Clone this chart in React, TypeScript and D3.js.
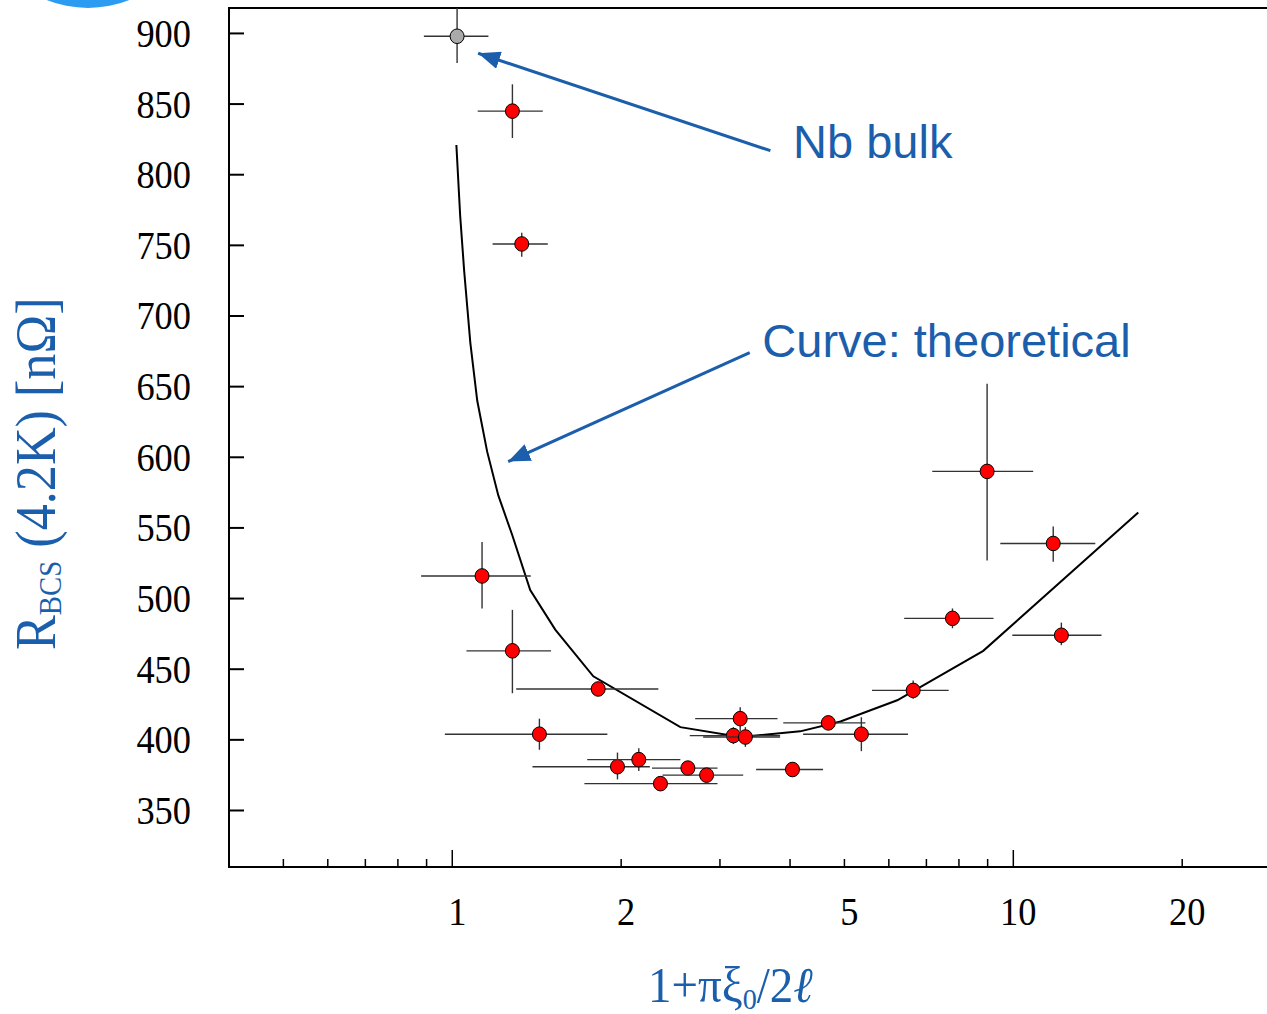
import React, { useEffect, useRef } from "react";
import * as d3 from "d3";

// measured points: x = 1+pi*xi0/2l, y = R_BCS(4.2K) [nOhm]
const kind = ["bulk", "film", "film", "film", "film", "film", "film", "film", "film", "film", "film", "film", "film", "film", "film", "film", "film", "film", "film", "film", "film", "film", "film"];
const ptX = [1.02, 1.28, 1.33, 1.13, 1.28, 1.82, 1.43, 1.97, 2.15, 2.35, 2.63, 2.84, 3.26, 3.17, 3.33, 4.04, 4.68, 5.36, 6.63, 8.98, 11.78, 7.79, 12.18];
const ptY = [898, 845, 751, 516, 463, 436, 404, 381, 386, 369, 380, 375, 415, 403, 402, 379, 412, 404, 435, 590, 539, 486, 474];
const ptXLo = [0.89, 1.11, 1.18, 0.88, 1.06, 1.3, 0.97, 1.39, 1.74, 1.72, 2.27, 2.37, 2.71, 2.65, 2.8, 3.48, 3.89, 4.22, 5.6, 7.17, 9.48, 6.39, 9.96];
const ptXHi = [1.16, 1.45, 1.48, 1.38, 1.5, 2.33, 1.89, 2.25, 2.55, 2.97, 2.97, 3.3, 3.8, 3.84, 3.84, 4.58, 5.45, 6.49, 7.67, 10.85, 14.0, 9.22, 14.36];
const ptYLo = [879, 826, 742, 493, 433, 431, 393, 372, 378, 364, 375, 370, 406, 397, 395, 374, 407, 392, 429, 527, 526, 479, 467];
const ptYHi = [918, 864, 759, 540, 492, 441, 415, 391, 394, 374, 385, 380, 423, 409, 409, 384, 417, 416, 442, 652, 551, 493, 483];

// theoretical curve
const curveX = [1.017, 1.033, 1.05, 1.077, 1.108, 1.154, 1.208, 1.279, 1.377, 1.526, 1.784, 2.55, 3.26, 4.17, 4.92, 6.21, 8.84, 16.7];
const curveY = [821, 771, 732, 681, 640, 604, 573, 545, 506, 478, 445, 409, 402, 406, 413, 428, 463, 561];

// axes
const yTicks = [350, 400, 450, 500, 550, 600, 650, 700, 750, 800, 850, 900];
const xMajorTicks = [1, 10];
const xMinorTicks = [0.5, 0.6, 0.7, 0.8, 0.9, 2, 3, 4, 5, 6, 7, 8, 9, 20];
const xTickLabels = [1, 2, 5, 10, 20];

// annotations: text position, arrow tail, arrow tip (data coords)
const noteText = ["Nb bulk", "Curve: theoretical"];
const noteAt = [[4.05, 812], [3.57, 671]];
const noteFrom = [[3.69, 817], [3.39, 674]];
const noteTo = [[1.112, 886], [1.258, 597]];

const W = 1267;
const H = 1014;
const blue = "#1b5eab";
const serif = "'Liberation Serif', 'Times New Roman', serif";

export default function App() {
  const ref = useRef<SVGSVGElement>(null);

  useEffect(() => {
    const svg = d3.select(ref.current);
    svg.selectAll("*").remove();

    const x = d3.scaleLog().domain([0.4, 30]).range([229, 1281]);
    const y = d3.scaleLinear().domain([310, 918]).range([867, 8]);

    // blue disc peeking in at the top-left corner
    svg.append("circle").attr("cx", 88).attr("cy", -103).attr("r", 111).attr("fill", "#2b9cf2");

    const defs = svg.append("defs");
    defs
      .append("marker")
      .attr("id", "head")
      .attr("markerUnits", "userSpaceOnUse")
      .attr("markerWidth", 24)
      .attr("markerHeight", 18)
      .attr("refX", 22)
      .attr("refY", 9)
      .attr("orient", "auto")
      .append("path")
      .attr("d", "M0,0 L22,9 L0,18 Z")
      .attr("fill", blue);

    //frame
    const frame = svg.append("g").attr("stroke", "#000").attr("stroke-width", 2);
    frame.append("line").attr("x1", 229).attr("x2", W).attr("y1", y(918)).attr("y2", y(918));
    frame.append("line").attr("x1", 228).attr("x2", W).attr("y1", y(310)).attr("y2", y(310));
    frame.append("line").attr("x1", 229).attr("x2", 229).attr("y1", y(918) - 1).attr("y2", y(310) + 1);

    //y ticks + labels
    const yAx = svg.append("g");
    yTicks.forEach((t) => {
      yAx.append("line").attr("x1", 229).attr("x2", 244).attr("y1", y(t)).attr("y2", y(t))
        .attr("stroke", "#000").attr("stroke-width", 2);
      yAx.append("text")
        .attr("transform", `translate(191,${y(t) + 13.5}) scale(0.91,1)`)
        .attr("text-anchor", "end")
        .attr("font-family", serif)
        .attr("font-size", 40)
        .text(t);
    });

    //x ticks + labels
    const xAx = svg.append("g").attr("stroke", "#000").attr("stroke-width", 1.5);
    xMajorTicks.forEach((t) => {
      xAx.append("line").attr("x1", x(t)).attr("x2", x(t)).attr("y1", y(310)).attr("y2", y(310) - 17);
    });
    xMinorTicks.forEach((t) => {
      xAx.append("line").attr("x1", x(t)).attr("x2", x(t)).attr("y1", y(310)).attr("y2", y(310) - 8);
    });
    xTickLabels.forEach((t) => {
      svg.append("text")
        .attr("transform", `translate(${x(t) + 5},925) scale(0.91,1)`)
        .attr("text-anchor", "middle")
        .attr("font-family", serif)
        .attr("font-size", 40)
        .text(t);
    });

    //axis titles
    const yt = svg.append("text")
      .attr("transform", "translate(55,650) rotate(-90) scale(0.9,1)")
      .attr("font-family", serif)
      .attr("font-size", 58)
      .attr("fill", blue);
    yt.append("tspan").text("R");
    yt.append("tspan").attr("font-size", 32).attr("dy", 6).text("BCS");
    yt.append("tspan").attr("dy", -6).text(" (4.2K) [nΩ]");

    const xt = svg.append("text")
      .attr("transform", "translate(648,1002) scale(0.94,1)")
      .attr("font-family", serif)
      .attr("font-size", 50)
      .attr("fill", blue);
    xt.append("tspan").text("1+πξ");
    xt.append("tspan").attr("font-size", 30).attr("dy", 7).text("0");
    xt.append("tspan").attr("dy", -7).text("/2");
    xt.append("tspan").attr("font-style", "italic").text("ℓ");

    //theory curve
    const line = d3.line<number>().x((d, i) => x(curveX[i])).y((d) => y(d));
    svg.append("path")
      .attr("d", line(curveY))
      .attr("fill", "none")
      .attr("stroke", "#000")
      .attr("stroke-width", 2);

    //points with error bars
    ptX.forEach((px, i) => {
      const g = svg.append("g");
      g.append("line").attr("x1", x(ptXLo[i])).attr("x2", x(ptXHi[i])).attr("y1", y(ptY[i])).attr("y2", y(ptY[i]))
        .attr("stroke", "#333").attr("stroke-width", 1.4);
      g.append("line").attr("x1", x(px)).attr("x2", x(px)).attr("y1", y(ptYLo[i])).attr("y2", y(ptYHi[i]))
        .attr("stroke", "#333").attr("stroke-width", 1.4);
      g.append("ellipse")
        .attr("cx", x(px)).attr("cy", y(ptY[i]))
        .attr("rx", 7).attr("ry", 7.3)
        .attr("fill", kind[i] === "bulk" ? "#aaaaaa" : "#ff0000")
        .attr("stroke", "#000").attr("stroke-width", 1);
    });

    //annotations
    noteText.forEach((t, i) => {
      svg.append("line")
        .attr("x1", x(noteFrom[i][0])).attr("y1", y(noteFrom[i][1]))
        .attr("x2", x(noteTo[i][0])).attr("y2", y(noteTo[i][1]))
        .attr("stroke", blue).attr("stroke-width", 3)
        .attr("marker-end", "url(#head)");
      svg.append("text")
        .attr("x", x(noteAt[i][0])).attr("y", y(noteAt[i][1]))
        .attr("font-family", "'Liberation Sans', Arial, sans-serif")
        .attr("font-size", 47)
        .attr("fill", blue)
        .text(t);
    });
  }, []);

  return (
    <svg
      ref={ref}
      width={W}
      height={H}
      style={{ position: "absolute", left: 0, top: 0, background: "#fff" }}
    />
  );
}
